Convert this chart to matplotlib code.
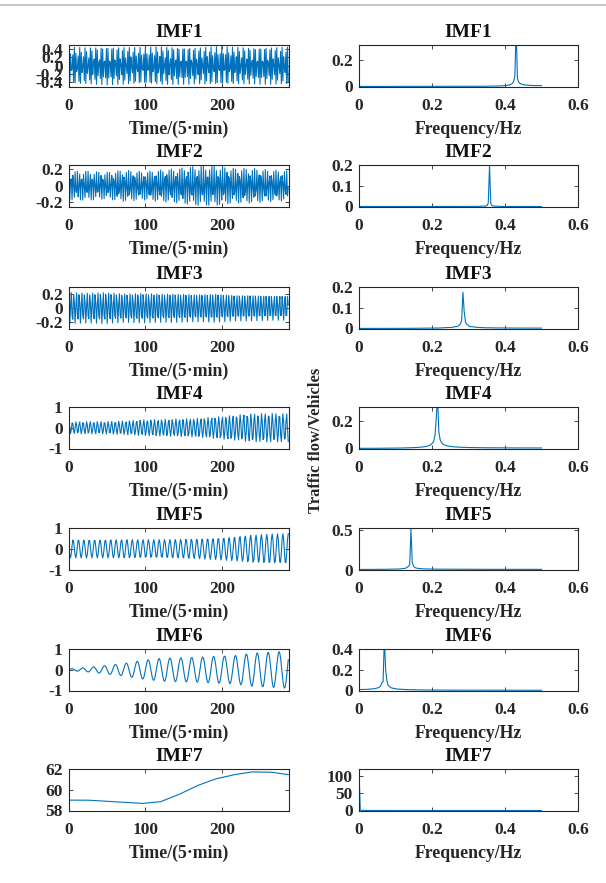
"""IMF decomposition panels: time series (left) and amplitude spectra (right)."""

import numpy as np
import matplotlib
matplotlib.use("Agg")
import matplotlib.pyplot as plt
from matplotlib.lines import Line2D

# ---- values ----
n_samples = 288
imf_names = ["IMF1", "IMF2", "IMF3", "IMF4", "IMF5", "IMF6", "IMF7"]

# dominant frequency of each oscillating IMF (cycles / sample), from spectrum peaks
imf_freq = [0.430, 0.3576, 0.2858, 0.214, 0.142, 0.070]
imf_phase = [0.0, 0.6, 1.2, 0.3, 1.5, -1.57]

# envelope amplitude read at these sample positions
env_t = [0, 24, 48, 72, 96, 120, 144, 168, 192, 216, 240, 264, 288]
imf1_amp = [0.45, 0.44, 0.46, 0.45, 0.44, 0.46, 0.45, 0.44, 0.46, 0.45, 0.44, 0.45, 0.45]
imf2_amp = [0.17, 0.18, 0.16, 0.19, 0.17, 0.19, 0.21, 0.24, 0.24, 0.21, 0.21, 0.19, 0.18]
imf3_amp = [0.23, 0.22, 0.23, 0.21, 0.22, 0.21, 0.21, 0.20, 0.21, 0.19, 0.19, 0.18, 0.18]
imf4_amp = [0.28, 0.30, 0.30, 0.33, 0.38, 0.40, 0.42, 0.45, 0.52, 0.60, 0.68, 0.70, 0.68]
imf5_amp = [0.44, 0.44, 0.44, 0.44, 0.44, 0.44, 0.45, 0.48, 0.52, 0.58, 0.66, 0.71, 0.73]
imf6_amp = [0.04, 0.10, 0.20, 0.30, 0.45, 0.55, 0.58, 0.60, 0.65, 0.68, 0.80, 0.85, 0.90]
# IMF7 residual trend values at env_t
imf7_trend = [59.0, 59.0, 58.9, 58.8, 58.68, 58.85, 59.55, 60.4, 61.05, 61.45, 61.72, 61.7, 61.45]

left_ylim = [(-0.5, 0.5), (-0.25, 0.25), (-0.3, 0.3), (-1, 1), (-1, 1), (-1, 1), (58, 62)]
left_yticks = [[-0.4, -0.2, 0, 0.2, 0.4], [-0.2, 0, 0.2], [-0.2, 0, 0.2],
               [-1, 0, 1], [-1, 0, 1], [-1, 0, 1], [58, 60, 62]]
right_ylim = [0.31, 0.2, 0.2, 0.3, 0.52, 0.4, 122]
right_yticks = [[0, 0.2], [0, 0.1, 0.2], [0, 0.1, 0.2], [0, 0.2], [0, 0.5],
                [0, 0.2, 0.4], [0, 50, 100]]
time_xticks = [0, 100, 200]
freq_xticks = [0, 0.2, 0.4, 0.6]

# ---- build the series ----
t = np.arange(n_samples)
amps = [imf1_amp, imf2_amp, imf3_amp, imf4_amp, imf5_amp, imf6_amp]
signals = []
for f, ph, amp in zip(imf_freq, imf_phase, amps):
    env = np.interp(t, env_t, amp)
    signals.append(env * np.cos(2 * np.pi * f * t + ph))
signals.append(np.interp(t, env_t, imf7_trend))

freqs = np.arange(n_samples // 2 + 1) / n_samples
spectra = [2 * np.abs(np.fft.fft(s) / n_samples)[: n_samples // 2 + 1] for s in signals]

# ---- style ----
plt.rcParams["font.family"] = "Liberation Serif"
plt.rcParams["font.weight"] = "bold"
plt.rcParams["axes.unicode_minus"] = False
line_color = "#0072BD"
ax_color = "#262626"

W, H = 606, 883
fig = plt.figure(figsize=(W / 100, H / 100), dpi=100)

row_tops = [45, 165, 287, 407, 528, 649, 769]
ax_h = 41.5
left_x, left_w = 69, 220
right_x, right_w = 359, 219


def style_axes(ax):
    for sp in ax.spines.values():
        sp.set_color(ax_color)
        sp.set_linewidth(0.8)
    ax.tick_params(direction="in", top=True, right=True, length=3, width=0.6,
                   colors=ax_color, labelsize=12.5, pad=4.5)
    ax.tick_params(axis="x", pad=8.5)
    for lab in ax.get_xticklabels() + ax.get_yticklabels():
        lab.set_fontweight("bold")


for i, name in enumerate(imf_names):
    top = row_tops[i]
    y0 = 1 - (top + ax_h) / H
    axl = fig.add_axes([left_x / W, y0, left_w / W, ax_h / H])
    axl.plot(t, signals[i], color=line_color, linewidth=0.8)
    axl.set_xlim(0, n_samples)
    axl.set_ylim(*left_ylim[i])
    axl.set_xticks(time_xticks)
    axl.set_yticks(left_yticks[i])
    axl.set_yticklabels([f"{v:g}" for v in left_yticks[i]])
    axl.set_title(name, fontsize=14, fontweight="bold", pad=6, color="#111111")
    axl.set_xlabel("Time/(5·min)", fontsize=12.8, fontweight="bold", labelpad=4.5, color=ax_color)
    style_axes(axl)

    axr = fig.add_axes([right_x / W, y0, right_w / W, ax_h / H])
    axr.plot(freqs, spectra[i], color=line_color, linewidth=0.8)
    axr.set_xlim(0, 0.6)
    axr.set_ylim(0, right_ylim[i])
    axr.set_xticks(freq_xticks)
    axr.set_xticklabels([f"{v:g}" for v in freq_xticks])
    axr.set_yticks(right_yticks[i])
    axr.set_yticklabels([f"{v:g}" for v in right_yticks[i]])
    axr.set_title(name, fontsize=14, fontweight="bold", pad=6, color="#111111")
    axr.set_xlabel("Frequency/Hz", fontsize=12.8, fontweight="bold", labelpad=4.5, color=ax_color)
    style_axes(axr)

fig.text(316 / W, 1 - 440 / H, "Traffic flow/Vehicles", rotation=90, ha="center",
         va="center", fontsize=12, fontweight="bold", color=ax_color)

# screenshot frame line at the top
fig.add_artist(Line2D([0, 1], [1 - 5 / H, 1 - 5 / H], transform=fig.transFigure,
                      color="#c8c8c8", linewidth=1.5))

fig.savefig("out.png", dpi=100)
